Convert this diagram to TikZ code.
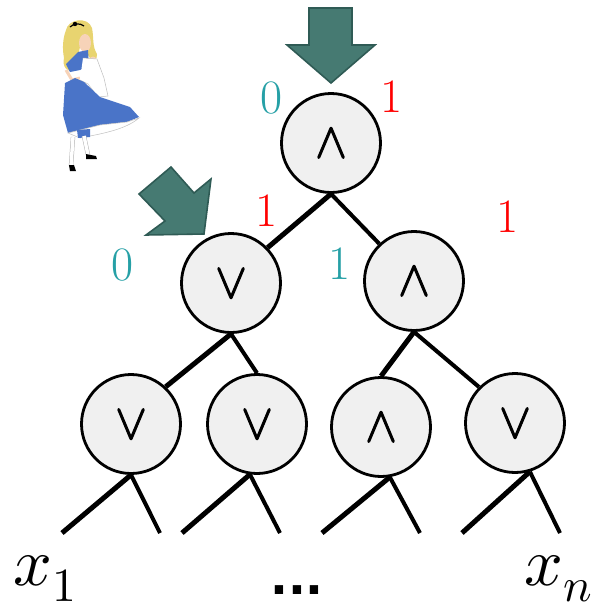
\documentclass[tikz,border=0pt]{standalone}
\usepackage{amsmath}
\usepackage{fontspec}
\usepackage{unicode-math}
\usetikzlibrary{backgrounds}
\newfontfamily\gatefont{Latin Modern Math}[FakeBold=2]
\newfontfamily\dotfont{DejaVu Sans}
\definecolor{bitteal}{HTML}{26A0A6}
\definecolor{bitred}{HTML}{FF0000}
\definecolor{pointerfill}{HTML}{467A72}
\definecolor{pointeredge}{HTML}{2F5B55}
\definecolor{hair}{HTML}{E8D470}
\definecolor{skin}{HTML}{F7D3B8}
\definecolor{dress}{HTML}{4A74C8}

\begin{document}
\begin{tikzpicture}[x=1pt,y=-1pt,
  gate/.style={circle,draw,line width=2.8pt,fill=black!6,minimum size=99pt,inner sep=0pt,
    font=\gatefont\fontsize{50}{50}\selectfont},
  wireL/.style={line width=5pt},
  wireR/.style={line width=4pt},
  bit/.style={inner sep=0pt,font=\fontsize{48}{48}\selectfont},
  pointer/.style={fill=pointerfill,draw=pointeredge,line width=1.6pt,line join=miter}]
\useasboundingbox (0,0) rectangle (597,611);

% the formula tree
\node[gate] (root) at (331,143) {∧};
\node[gate] (l) at (231,283) {∨};
\node[gate] (r) at (414,281) {∧};
\node[gate] (v1) at (131,424) {∨};
\node[gate] (v2) at (257,424) {∨};
\node[gate] (v3) at (381,427) {∧};
\node[gate] (v4) at (515,423) {∨};

\coordinate (in1) at (62,533);
\coordinate (in2) at (160,533);
\coordinate (in3) at (182,533);
\coordinate (in4) at (280,533);
\coordinate (in5) at (322,533);
\coordinate (in6) at (420,533);
\coordinate (in7) at (462,533);
\coordinate (in8) at (560,533);

\begin{pgfonlayer}{background}
\draw[wireL] (root.south) -- (l.44);
\draw[wireR] (root.south) -- (r.133);
\draw[wireL] (l.south) -- (v1.47);
\draw[wireR] (l.south) -- (v2.north);
\draw[wireL] (r.south) -- (v3.north);
\draw[wireR] (r.south) -- (v4.135);
\draw[wireL] (v1.-90) -- (in1);
\draw[wireR] (v1.-90) -- (in2);
\draw[wireL] (v2.-98) -- (in3);
\draw[wireR] (v2.-98) -- (in4);
\draw[wireL] (v3.-80) -- (in5);
\draw[wireR] (v3.-80) -- (in6);
\draw[wireL] (v4.-73) -- (in7);
\draw[wireR] (v4.-73) -- (in8);
\end{pgfonlayer}

% values seen at the gates
\node[bit,text=bitteal] (b1) at (272,98) {0};
\node[bit,text=bitred] (b2) at (392,97) {1};
\node[bit,text=bitred] (b3) at (267,211) {1};
\node[bit,text=bitteal] (b4) at (123,265) {0};
\node[bit,text=bitteal] (b5) at (340,264) {1};
\node[bit,text=bitred] (b6) at (508,217) {1};

% inputs
\node[anchor=base west,inner sep=0pt,font=\fontsize{68}{72}\selectfont] (x1) at (13,585) {$x_1$};
\node[anchor=base,inner sep=0pt,font=\dotfont\bfseries\fontsize{47}{47}\selectfont] (dots) at (297,594) {...};
\node[anchor=base west,inner sep=0pt,font=\fontsize{68}{72}\selectfont] (xn) at (524,585) {$x_n$};

% pointers
\filldraw[pointer] (309,8) -- (352,8) -- (352,45) -- (375,45) -- (331,83) -- (287,45) -- (309,45) -- cycle;
\filldraw[pointer] (139,194) -- (171,167) -- (194,193) -- (211,179) -- (204,234) -- (146,235) -- (165,221) -- cycle;

% Alice
\fill[hair] (66,30) .. controls (68,19) and (88,16) .. (92,28) .. controls (94,38) and (92,46) .. (97,54)
  .. controls (98,60) and (92,62) .. (89,57) -- (82,42) .. controls (78,50) and (78,62) .. (73,70)
  .. controls (67,73) and (62,66) .. (64,58) .. controls (62,48) and (63,38) .. (66,30) -- cycle;
\fill[skin] (85,43) ellipse (6 and 9);
\fill[black] (75,24) circle (2.2);
\draw[black,line width=1.2pt] (70,27) .. controls (74,23) and (80,23) .. (84,26);
\fill[dress] (78,52) -- (88,50) -- (89,66) -- (80,70) -- (70,72) -- (66,64) -- cycle;
\fill[skin] (93,60) circle (3.5);
\draw[skin,line width=3pt] (66,70) -- (72,80) -- (80,78);
\fill[white] (83,58) -- (97,59) -- (104,78) -- (108,96) -- (98,97) -- (88,84) -- (80,80) -- cycle;
\draw[black!25,line width=0.5pt] (83,58) -- (97,59) -- (104,78) -- (108,96) -- (98,97) -- (88,84) -- (80,80);
\fill[dress] (65,83) -- (75,78) -- (84,82) -- (100,97) -- (130,107) -- (139,117) -- (127,122)
  -- (100,125) -- (68,133) -- (63,115) -- cycle;
\filldraw[fill=white,draw=black!25,line width=0.5pt] (68,133) -- (100,125) -- (127,122) -- (139,118)
  .. controls (125,130) and (100,134) .. (80,138) -- cycle;
\fill[dress] (77,130) -- (90,129) -- (90,137) -- (78,138) -- cycle;
\draw[black!30,line width=4.4pt] (73,137) -- (71,166) (84,136) -- (88,155);
\draw[white,line width=3.4pt] (73,137) -- (71,166) (84,136) -- (88,155);
\fill[black] (69,165) -- (74,165) -- (76,171) -- (70,171) -- cycle;
\fill[black] (86,154) -- (96,156) -- (97,159) -- (86,159) -- cycle;
\end{tikzpicture}
\end{document}
